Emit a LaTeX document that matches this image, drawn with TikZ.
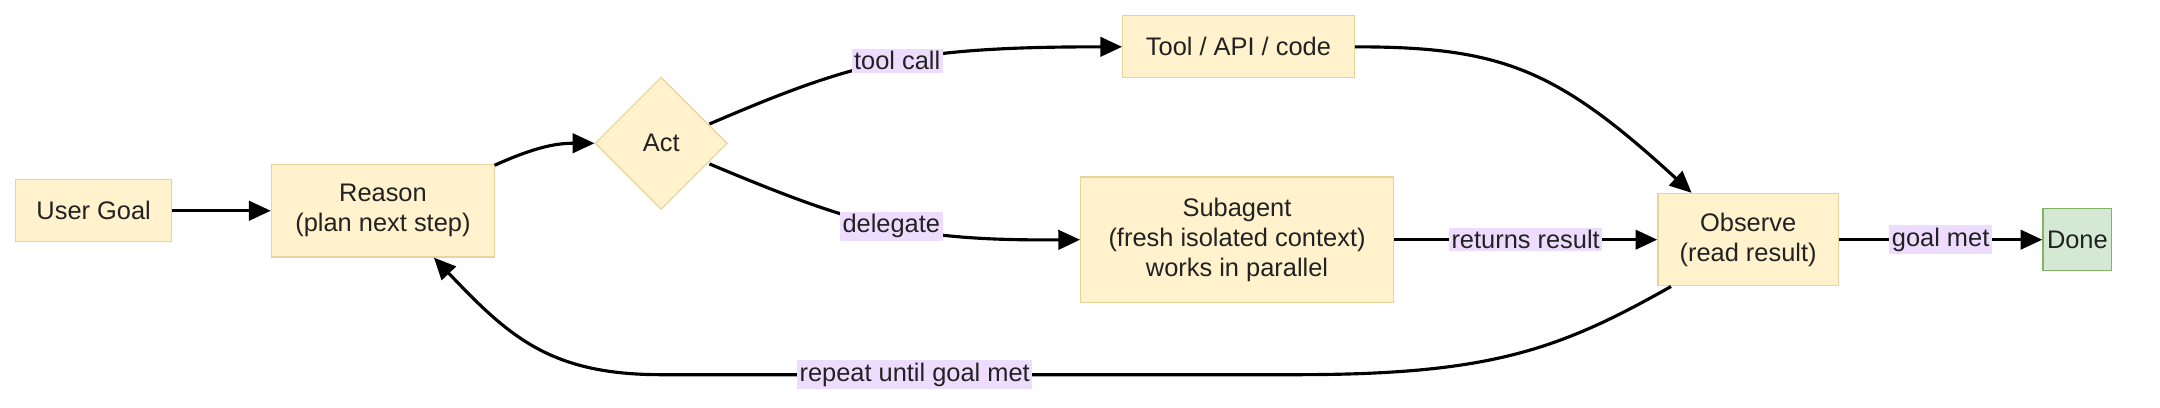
\documentclass[tikz,border=0pt]{standalone}
\usepackage{fontspec}
\setmainfont{Liberation Sans}
\usetikzlibrary{shapes.geometric,arrows.meta}
\definecolor{boxf}{HTML}{FFF2CC}
\definecolor{boxd}{HTML}{E8D39A}
\definecolor{donef}{HTML}{D5E8D4}
\definecolor{doned}{HTML}{82B366}
\definecolor{lbl}{HTML}{EEDCFF}
\definecolor{txt}{HTML}{222222}
\begin{document}
\begin{tikzpicture}[x=0.02cm,y=-0.02cm,
  box/.style={draw=boxd,fill=boxf,line width=0.5pt,align=center,text=txt,font=\fontsize{10.5}{12.5}\selectfont,inner sep=0pt},
  lab/.style={fill=lbl,inner sep=1pt,text=txt,font=\fontsize{10.5}{12.5}\selectfont},
  arr/.style={-{Triangle[length=9pt,width=8pt]},line width=1.3pt}]
\useasboundingbox (0,0) rectangle (1568,296);
\node[box,minimum width=113*0.02cm,minimum height=45*0.02cm] (goal) at (68,153) {User Goal};
\node[box,minimum width=162*0.02cm,minimum height=67*0.02cm] (reason) at (278,153) {Reason\\(plan next step)};
\node[box,diamond,minimum width=96*0.02cm,minimum height=96*0.02cm] (act) at (480,104) {Act};
\node[box,minimum width=168*0.02cm,minimum height=45*0.02cm] (tool) at (899,34) {Tool / API / code};
\node[box,minimum width=227*0.02cm,minimum height=91*0.02cm] (sub) at (898,174) {Subagent\\(fresh isolated context)\\works in parallel};
\node[box,minimum width=131*0.02cm,minimum height=67*0.02cm] (obs) at (1269,174) {Observe\\(read result)};
\node[box,draw=doned,fill=donef,minimum width=50*0.02cm,minimum height=45*0.02cm] (done) at (1508,174) {Done};
\coordinate (r1) at (359,120);
\coordinate (a1) at (515,90);
\coordinate (a2) at (515,119);
\coordinate (o1) at (1228,140);
\coordinate (o2) at (1213,208);
\coordinate (r2) at (315,187);
\coordinate (c1) at (940,272);
\coordinate (c2) at (480,272);
\draw[arr] (goal) -- (reason);
\draw[arr] (r1) .. controls (390,106) and (405,104) .. (act.west);
\draw[arr] (a1) .. controls (620,45) and (660,34) .. node[lab,pos=0.52]{tool call} (tool.west);
\draw[arr] (a2) .. controls (620,163) and (660,175) .. node[lab,pos=0.52]{delegate} (sub.west);
\draw[arr] (sub) -- node[lab]{returns result} (obs);
\draw[arr] (obs) -- node[lab]{goal met} (done);
\draw[arr] (tool.east) .. controls (1090,34) and (1130,50) .. (o1);
\draw[arr] (o2) .. controls (1130,255) and (1080,272) .. (c1) -- node[lab,pos=0.6]{repeat until goal met} (c2) .. controls (400,272) and (370,245) .. (r2);
\end{tikzpicture}
\end{document}
